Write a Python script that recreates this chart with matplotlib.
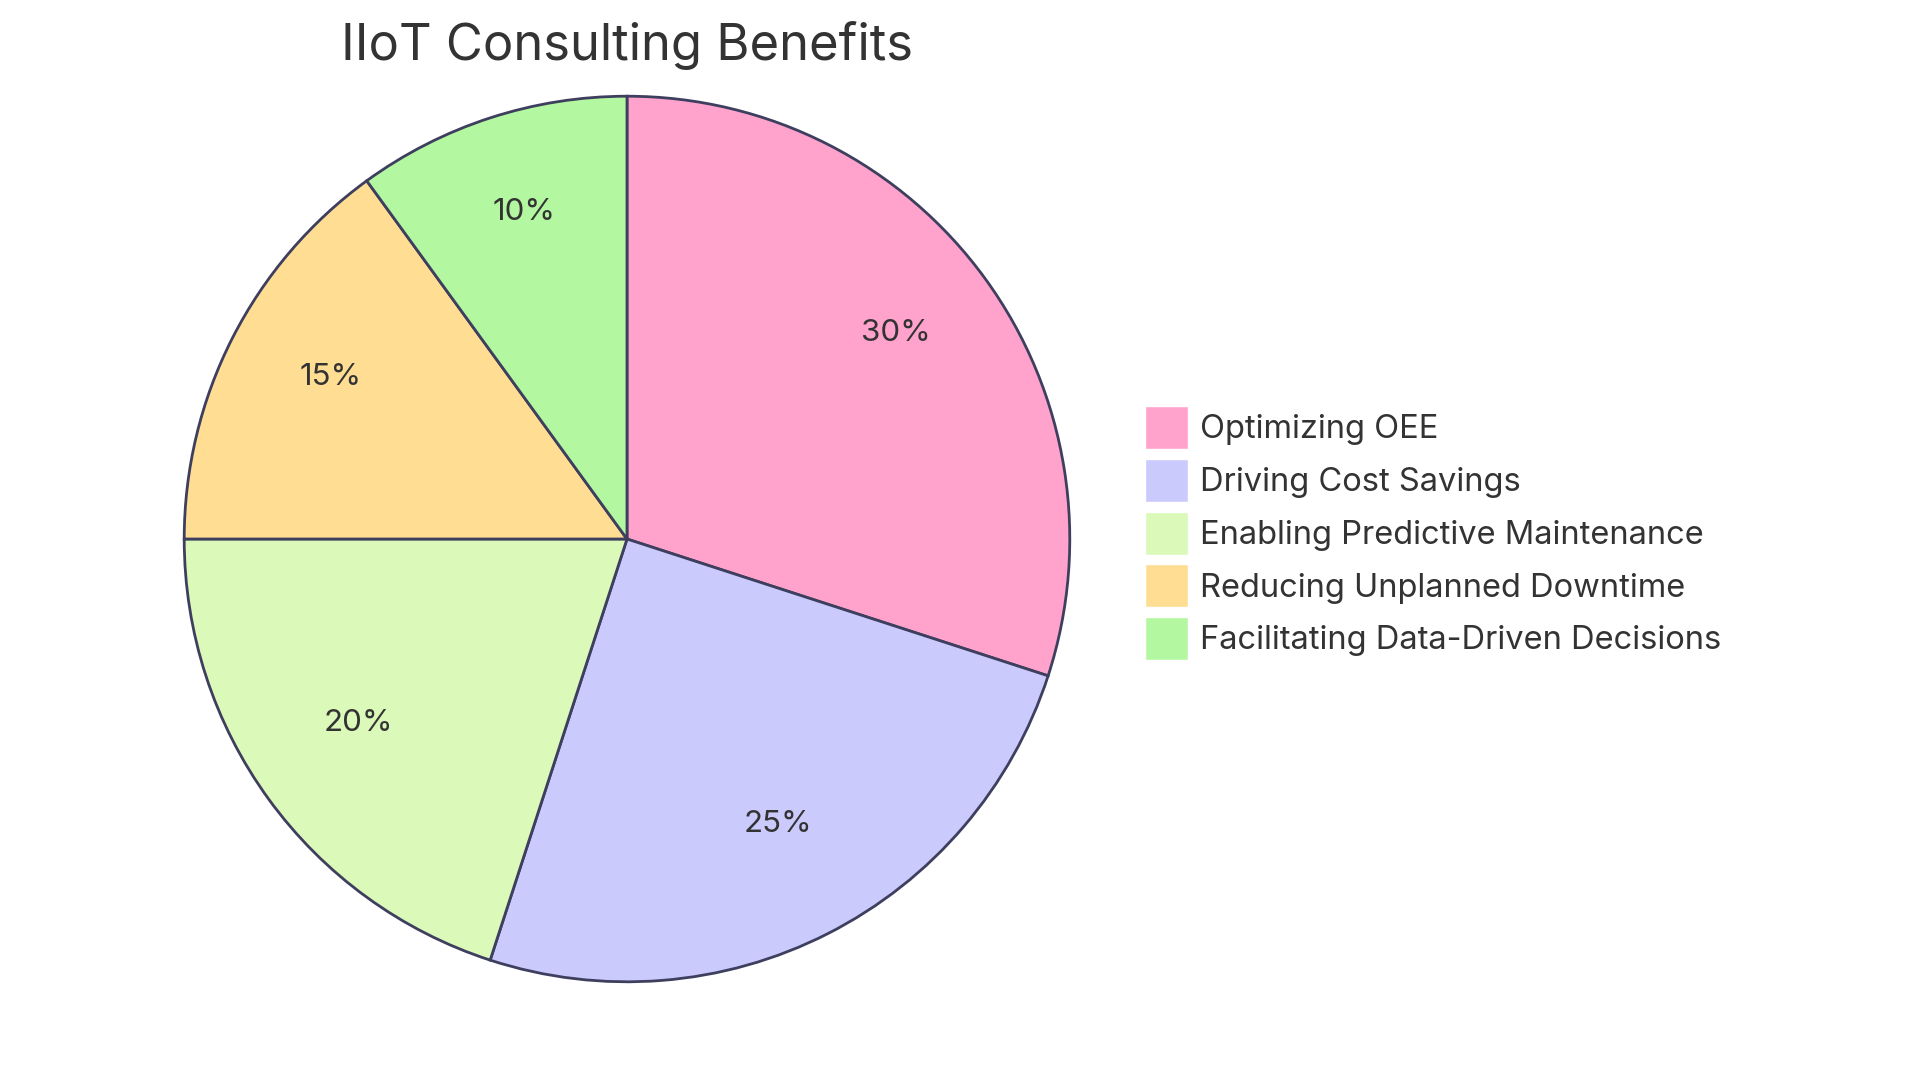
import matplotlib
matplotlib.use("Agg")
import matplotlib.pyplot as plt
from matplotlib.patches import Patch

# ===============================
# Data
# ===============================
LABELS = [
    "Optimizing OEE",
    "Driving Cost Savings",
    "Enabling Predictive Maintenance",
    "Reducing Unplanned Downtime",
    "Facilitating Data-Driven Decisions",
]
VALUES = [30, 25, 20, 15, 10]
COLORS = ["#FFA3CD", "#CACAFD", "#DBF9B9", "#FFDD93", "#B3F8A0"]

EDGE = "#3E3F5E"
TEXT = "#333333"

plt.rcParams["font.family"] = ["Inter", "DejaVu Sans"]

fig = plt.figure(figsize=(19.2, 10.8), dpi=100)
fig.patch.set_facecolor("white")

# pie axes: centre (627, 539) px, radius 445 px
ax = fig.add_axes([182 / 1920, 96 / 1080, 890 / 1920, 890 / 1080])
wedges, texts, autotexts = ax.pie(
    VALUES,
    colors=COLORS,
    startangle=90,
    counterclock=False,
    autopct="%1.0f%%",
    pctdistance=0.75,
    wedgeprops={"edgecolor": EDGE, "linewidth": 2},
    textprops={"fontsize": 22.5, "color": TEXT},
)
# labels sit a little above the wedge midpoint radius
for t in autotexts:
    x, y = t.get_position()
    t.set_position((x, y + 0.025))

ax.set_xlim(-1.005, 1.005)
ax.set_ylim(-1.005, 1.005)
ax.axis("off")

# title
fig.text(627 / 1920, 1 - 60 / 1080, "IIoT Consulting Benefits",
         ha="center", va="baseline", fontsize=36.5, color=TEXT)

# legend
handles = [Patch(facecolor=c, edgecolor="white", linewidth=1) for c in COLORS]
fig.legend(
    handles, LABELS,
    loc="upper left",
    bbox_to_anchor=(1145 / 1920, 1 - 406 / 1080),
    frameon=False,
    fontsize=23.5,
    labelcolor=TEXT,
    handlelength=1.32,
    handleheight=1.65,
    handletextpad=0.37,
    labelspacing=0.3,
    borderpad=0,
    borderaxespad=0,
)

fig.savefig("out.png", dpi=100, facecolor="white")
